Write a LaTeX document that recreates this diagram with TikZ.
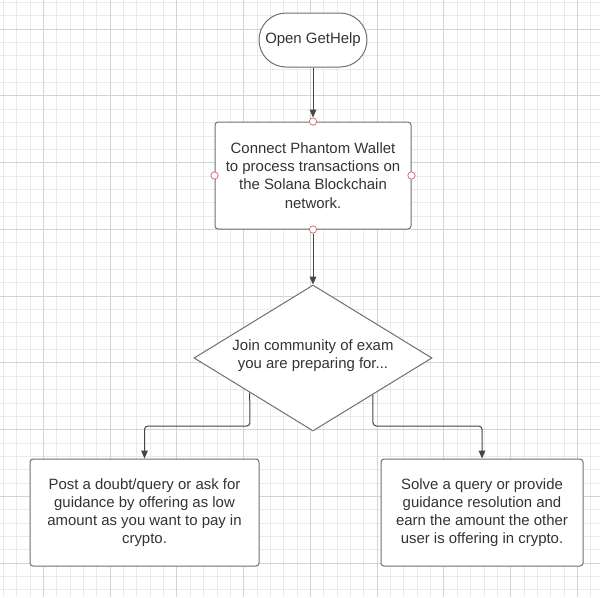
\documentclass[tikz,border=0pt]{standalone}
\usepackage{fontspec}
\setmainfont{Liberation Sans}
\usetikzlibrary{shapes.geometric,arrows.meta,calc}
\definecolor{gridminor}{RGB}{234,234,234}
\definecolor{gridmajor}{RGB}{212,212,212}
\definecolor{shapeline}{RGB}{112,112,112}
\definecolor{arrowline}{RGB}{70,70,70}
\definecolor{txt}{RGB}{51,51,51}
\definecolor{pinkred}{RGB}{220,110,120}
\begin{document}
\begin{tikzpicture}[x=0.75pt,y=-0.75pt,
  every node/.style={font=\fontsize{11.2}{13.6}\selectfont, text=txt, align=center},
  boxstyle/.style={draw=shapeline, fill=white, line width=0.75pt, rounded corners=2.25pt, inner sep=0pt},
  termstyle/.style={draw=shapeline, fill=white, line width=0.75pt, rounded corners=20.25pt, inner sep=0pt, minimum width=81pt, minimum height=40.5pt},
  decstyle/.style={draw=shapeline, fill=white, line width=0.75pt, diamond, inner sep=0pt, minimum width=178.5pt, minimum height=109.5pt},
  conn/.style={draw=arrowline, line width=0.75pt, -{Triangle[length=6pt,width=5pt]}},
  linkconn/.style={conn, rounded corners=2.5pt},
  portstyle/.style={circle, draw=pinkred, fill=white, line width=0.6pt, inner sep=0pt, minimum size=5.5pt}
]
\useasboundingbox (0,0) rectangle (600,597);
\fill[white] (0,0) rectangle (600,597);
% grid
\begin{scope}
\clip (0,0) rectangle (600,597);
\foreach \i in {0,...,45} {
  \draw[gridminor, line width=0.6pt] ({3.3+13.35*\i},0) -- ({3.3+13.35*\i},597);
  \draw[gridminor, line width=0.6pt] (0,{2.4+13.35*\i}) -- (600,{2.4+13.35*\i});
}
\foreach \k in {0,...,8} {
  \draw[gridmajor, line width=0.6pt] ({43.35+66.75*\k},0) -- ({43.35+66.75*\k},597);
  \draw[gridmajor, line width=0.6pt] (0,{29.1+66.75*\k}) -- (600,{29.1+66.75*\k});
}
\end{scope}
% nodes
\node[termstyle] (start) at (313,40) {Open GetHelp};
\node[boxstyle, minimum width=147pt, minimum height=80.25pt] (wallet) at (313,175.5)
  {Connect Phantom Wallet\\to process transactions on\\the Solana Blockchain\\network.};
\node[decstyle] (join) at (313,358) {};
\node (jointext) at (313,356) {Join community of exam\\you are preparing for...};
\node[boxstyle, minimum width=171.75pt, minimum height=80.25pt] (post) at (144.5,512.5)
  {Post a doubt/query or ask for\\guidance by offering as low\\amount as you want to pay in\\crypto.};
\node[boxstyle, minimum width=151.5pt, minimum height=80.25pt] (solve) at (482,512.5)
  {Solve a query or provide\\guidance resolution and\\earn the amount the other\\user is offering in crypto.};
% connectors
\coordinate (jl) at ($(join.west)!0.47!(join.south)$);
\coordinate (jr) at ($(join.east)!0.5!(join.south)$);
\coordinate (lk) at (250,426);
\coordinate (rk) at (373,426);
\draw[conn, shorten >=3pt] (start.south) -- (wallet.north);
\draw[conn, shorten <=3pt] (wallet.south) -- (join.north);
\draw[linkconn] (jl) -- (lk) -| (post.north);
\draw[linkconn] (jr) -- (rk) -| (solve.north);
% ports
\node[portstyle] (pn) at (wallet.north) {};
\node[portstyle] (ps) at (wallet.south) {};
\node[portstyle] (pw) at (wallet.west) {};
\node[portstyle] (pe) at (wallet.east) {};
\end{tikzpicture}
\end{document}
